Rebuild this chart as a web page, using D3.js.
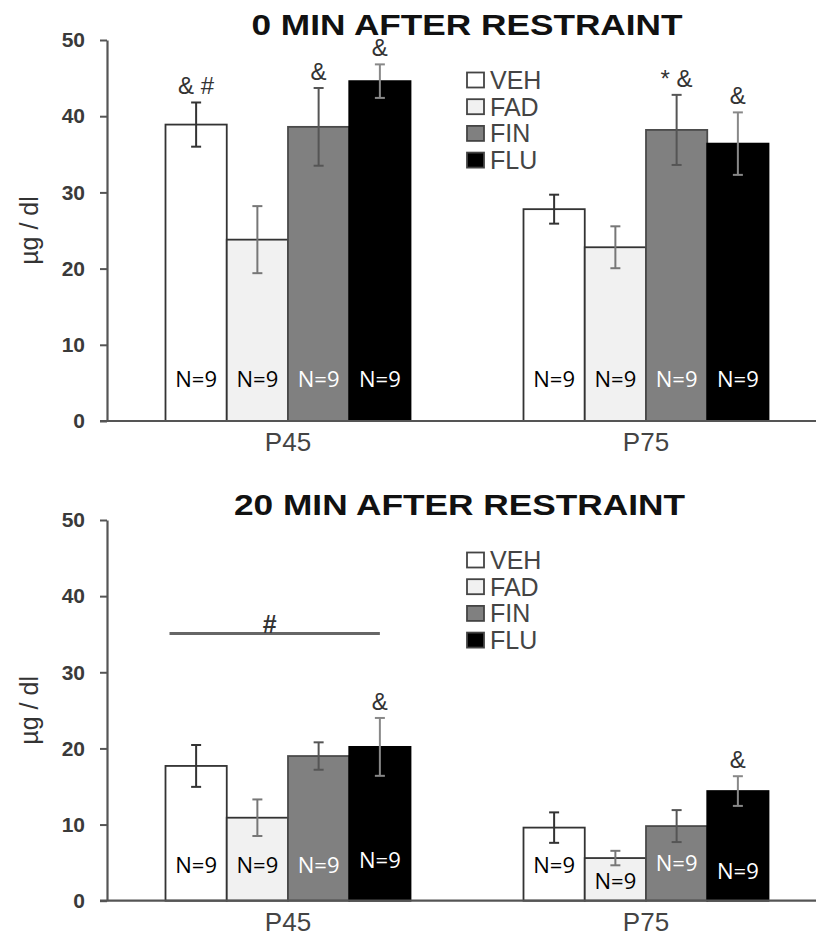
<!DOCTYPE html>
<html>
<head>
<meta charset="utf-8">
<script src="https://cdn.jsdelivr.net/npm/d3@7"></script>
<style>
  body { margin: 0; background: #fff; }
  svg { display: block; }
  text { font-family: "Liberation Sans", Arial, sans-serif; }
</style>
</head>
<body>
<div id="chart"></div>
<script>
// data (µg/dl)
var groups = ["P45", "P75"];
var series = ["VEH", "FAD", "FIN", "FLU"];
var yTicks = [0, 10, 20, 30, 40, 50];

var means0 = [[38.9, 23.8, 38.6, 44.6], [27.8, 22.8, 38.2, 36.4]];
var sem0   = [[2.9, 4.4, 5.1, 2.2],     [1.9, 2.75, 4.6, 4.1]];
var means20 = [[17.7, 10.9, 19.0, 20.2], [9.6, 5.6, 9.8, 14.4]];
var sem20   = [[2.75, 2.4, 1.8, 3.8],    [2.0, 0.95, 2.1, 1.95]];

var counts = [[9, 9, 9, 9], [9, 9, 9, 9]];
// height (in µg/dl) where the N= label sits
var nLevel0 = [[4.5, 4.5, 4.5, 4.5], [4.5, 4.5, 4.5, 4.5]];
var nLevel20 = [[3.6, 3.6, 3.6, 4.3], [3.6, 1.6, 3.9, 2.9]];

var marks0 = [
  {g: 0, s: 0, t: "& #"}, {g: 0, s: 2, t: "&"}, {g: 0, s: 3, t: "&"},
  {g: 1, s: 2, t: "* &"}, {g: 1, s: 3, t: "&"}
];
var marks20 = [{g: 0, s: 3, t: "&"}, {g: 1, s: 3, t: "&"}];
var brackets20 = [{g: 0, from: 0, to: 3, level: 35.1, t: "#"}];

var fills = ["#ffffff", "#f1f1f1", "#808080", "#000000"];
var strokes = ["#333", "#333", "#4a4a4a", "#000"];
var errColors = ["#333", "#777", "#555", "#888"];
var nColors = ["#000", "#000", "#fff", "#fff"];

var W = 816, H = 936;
var svg = d3.select("#chart").append("svg")
  .attr("width", W).attr("height", H);

var x = d3.scaleBand().domain(groups).range([109, 825]);
var xs = d3.scaleBand().domain(series).range([56.5, 301.5]);

function panel(opt) {
  var y = d3.scaleLinear().domain([0, 50]).range([opt.bottom, opt.top]);
  var g = svg.append("g");

  // title
  g.append("text")
    .attr("x", opt.titleX).attr("y", opt.top - 5)
    .attr("text-anchor", "middle")
    .attr("font-size", 30).attr("font-weight", "bold")
    .attr("fill", "#111")
    .attr("textLength", opt.titleW).attr("lengthAdjust", "spacingAndGlyphs")
    .text(opt.title);

  // bars
  groups.forEach(function(grp, gi) {
    var gg = g.append("g").attr("transform", "translate(" + x(grp) + ",0)");
    gg.selectAll("rect").data(opt.means[gi]).enter().append("rect")
      .attr("x", function(d, i) { return xs(series[i]); })
      .attr("width", xs.bandwidth())
      .attr("y", function(d) { return y(d); })
      .attr("height", function(d) { return y(0) - y(d); })
      .attr("fill", function(d, i) { return fills[i]; })
      .attr("stroke", function(d, i) { return strokes[i]; })
      .attr("stroke-width", 1.8);

    // error bars
    opt.means[gi].forEach(function(m, i) {
      var cx = xs(series[i]) + xs.bandwidth() / 2;
      var e = opt.sem[gi][i];
      var col = errColors[i];
      gg.append("line").attr("x1", cx).attr("x2", cx)
        .attr("y1", y(m + e)).attr("y2", y(m - e))
        .attr("stroke", col).attr("stroke-width", 2);
      [m + e, m - e].forEach(function(v) {
        gg.append("line").attr("x1", cx - 5).attr("x2", cx + 5)
          .attr("y1", y(v)).attr("y2", y(v))
          .attr("stroke", col).attr("stroke-width", 2);
      });
      // N labels
      gg.append("text")
        .attr("x", cx).attr("y", y(opt.nLevel[gi][i]))
        .attr("text-anchor", "middle")
        .style("font-family", "'Open Sans', sans-serif")
        .attr("font-size", 22)
        .attr("fill", nColors[i])
        .text("N=" + counts[gi][i]);
    });
  });

  // significance marks above error bars
  opt.marks.forEach(function(mk) {
    var cx = x(groups[mk.g]) + xs(series[mk.s]) + xs.bandwidth() / 2;
    var top = opt.means[mk.g][mk.s] + opt.sem[mk.g][mk.s];
    g.append("text")
      .attr("x", cx).attr("y", y(top) - 8)
      .attr("text-anchor", "middle")
      .attr("font-size", 24).attr("fill", "#333")
      .text(mk.t);
  });

  opt.brackets.forEach(function(b) {
    var x1 = x(groups[b.g]) + xs(series[b.from]) + 4;
    var x2 = x(groups[b.g]) + xs(series[b.to]) + xs.bandwidth() / 2;
    g.append("line").attr("x1", x1).attr("x2", x2)
      .attr("y1", y(b.level)).attr("y2", y(b.level))
      .attr("stroke", "#666").attr("stroke-width", 3);
    g.append("text")
      .attr("x", (x1 + x2) / 2 - 5).attr("y", y(b.level))
      .attr("text-anchor", "middle")
      .attr("font-size", 25).attr("font-weight", "bold").attr("fill", "#333")
      .text(b.t);
  });

  // y axis
  var ya = g.append("g").attr("transform", "translate(107,0)")
    .call(d3.axisLeft(y).tickValues(yTicks).tickSize(7).tickPadding(15).tickSizeOuter(0));
  ya.select(".domain").attr("stroke", "#555").attr("stroke-width", 2.2);
  ya.selectAll(".tick line").attr("stroke", "#555").attr("stroke-width", 2);
  ya.selectAll(".tick text")
    .attr("font-family", "'Liberation Sans', Arial, sans-serif")
    .attr("font-size", 21).attr("font-weight", "bold").attr("fill", "#3a3a3a");

  // x axis baseline and labels
  g.append("line").attr("x1", 100).attr("x2", W)
    .attr("y1", y(0)).attr("y2", y(0))
    .attr("stroke", "#555").attr("stroke-width", 2.2);
  g.selectAll(".xlab").data(groups).enter().append("text")
    .attr("class", "xlab")
    .attr("x", function(d) { return x(d) + x.bandwidth() / 2; })
    .attr("y", y(0) + 30)
    .attr("text-anchor", "middle")
    .attr("font-size", 26).attr("fill", "#444")
    .text(function(d) { return d; });

  // y label
  g.append("text")
    .attr("transform", "translate(38," + (opt.top + opt.bottom) / 2 + ") rotate(-90)")
    .attr("text-anchor", "middle")
    .attr("font-size", 25).attr("fill", "#333")
    .text("µg / dl");

  // legend
  series.forEach(function(s, i) {
    var cy = opt.legendY + i * 26.7;
    g.append("rect").attr("x", 467).attr("y", cy - 7.5)
      .attr("width", 17).attr("height", 15)
      .attr("fill", fills[i]).attr("stroke", "#444").attr("stroke-width", 1.8);
    g.append("text").attr("x", 490).attr("y", cy + 9)
      .attr("font-size", 25).attr("fill", "#444")
      .text(s);
  });
}

panel({
  title: "0 MIN AFTER RESTRAINT", titleX: 467, titleW: 431,
  top: 40, bottom: 421, legendY: 80,
  means: means0, sem: sem0, nLevel: nLevel0, marks: marks0, brackets: []
});
panel({
  title: "20 MIN AFTER RESTRAINT", titleX: 459.5, titleW: 451,
  top: 520, bottom: 900.7, legendY: 560,
  means: means20, sem: sem20, nLevel: nLevel20, marks: marks20, brackets: brackets20
});
</script>
</body>
</html>
